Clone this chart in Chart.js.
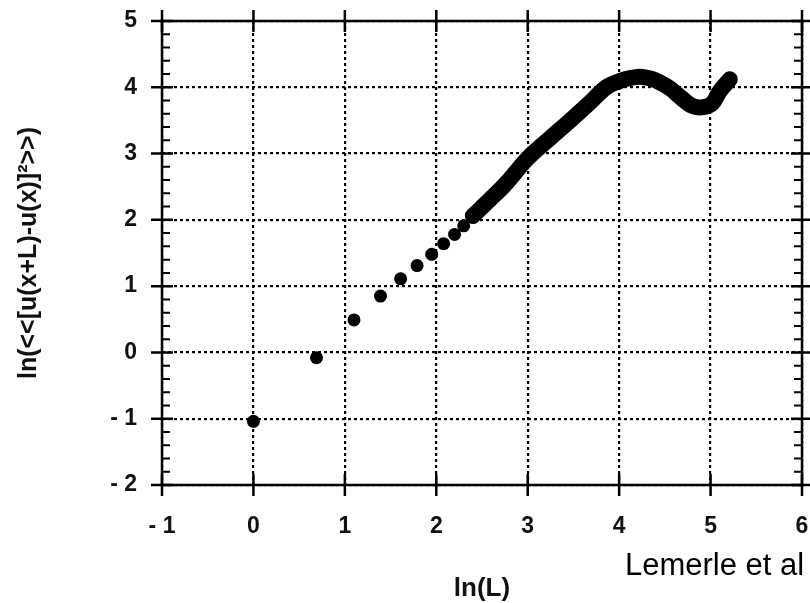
<!DOCTYPE html>
<html>
<head>
<meta charset="utf-8">
<script src="https://cdn.jsdelivr.net/npm/chart.js@4.4.1/dist/chart.umd.min.js"></script>
<style>
  body { margin: 0; background: #fff; }
  #wrap { width: 810px; height: 603px; position: relative; }
</style>
</head>
<body>
<div id="wrap"><canvas id="chart"></canvas></div>
<script>
// ===============================
// data
// ===============================
const xTicks = [-1, 0, 1, 2, 3, 4, 5, 6];
const yTicks = [-2, -1, 0, 1, 2, 3, 4, 5];

// separate dots at small L
const dotX = [0, 0.69, 1.10, 1.39, 1.61, 1.79, 1.95, 2.08, 2.20, 2.30, 2.40, 2.48, 2.56];
const dotY = [-1.04, -0.08, 0.49, 0.85, 1.11, 1.31, 1.48, 1.64, 1.78, 1.91, 2.04, 2.15, 2.26];

// dense part, the dots run together into a thick band
const curveX = [2.40, 2.59, 2.77, 3.00, 3.25, 3.45, 3.65, 3.86, 4.00, 4.12, 4.23, 4.35, 4.45, 4.56, 4.68, 4.80, 4.92, 5.02, 5.10, 5.21];
const curveY = [2.06, 2.31, 2.56, 2.93, 3.24, 3.48, 3.73, 4.00, 4.09, 4.14, 4.16, 4.13, 4.07, 3.98, 3.84, 3.72, 3.70, 3.76, 3.94, 4.12];

const xTitle = "ln(L)";
const yTitle = "ln(<<[u(x+L)-u(x)]²>>)";
const note = "Lemerle et al";

const FONT = "'Liberation Sans', Arial, Helvetica, sans-serif";

const fmt = v => v < 0 ? "- " + Math.abs(v) : String(v);

// ===============================
// frame, crossing ticks, minor ticks, note
// ===============================
const framePlugin = {
    id: "frame",
    afterDatasetsDraw(chart) {
        const { ctx, chartArea: a, scales } = chart;
        const sx = scales.x, sy = scales.y;
        ctx.save();
        ctx.strokeStyle = "#000";
        ctx.lineWidth = 2.5;
        ctx.strokeRect(a.left, a.top, a.right - a.left, a.bottom - a.top);

        ctx.beginPath();
        xTicks.forEach(v => {
            const px = sx.getPixelForValue(v);
            ctx.moveTo(px, a.top - 11); ctx.lineTo(px, a.top + 11);
            ctx.moveTo(px, a.bottom - 11); ctx.lineTo(px, a.bottom + 11);
        });
        yTicks.forEach(v => {
            const py = sy.getPixelForValue(v);
            ctx.moveTo(a.left - 11, py); ctx.lineTo(a.left + 11, py);
            ctx.moveTo(a.right - 11, py); ctx.lineTo(a.right + 11, py);
        });
        ctx.stroke();

        // minor ticks on y, every 0.2
        ctx.lineWidth = 2;
        ctx.beginPath();
        for (let i = 0; i < yTicks.length - 1; i++) {
            for (let k = 1; k < 5; k++) {
                const py = sy.getPixelForValue(yTicks[i] + k * 0.2);
                ctx.moveTo(a.left, py); ctx.lineTo(a.left + 8, py);
                ctx.moveTo(a.right, py); ctx.lineTo(a.right - 8, py);
            }
        }
        ctx.stroke();

        ctx.fillStyle = "#000";
        ctx.font = "31px " + FONT;
        ctx.textAlign = "left";
        ctx.textBaseline = "alphabetic";
        ctx.fillText(note, 625, 575);
        ctx.restore();
    }
};

// ===============================
// chart
// ===============================
new Chart(document.getElementById("chart"), {
    type: "scatter",
    data: {
        datasets: [
            {
                data: dotX.map((x, i) => ({ x: x, y: dotY[i] })),
                backgroundColor: "#000",
                borderWidth: 0,
                pointRadius: 6.5
            },
            {
                data: curveX.map((x, i) => ({ x: x, y: curveY[i] })),
                showLine: true,
                borderColor: "#000",
                borderWidth: 16,
                borderCapStyle: "round",
                borderJoinStyle: "round",
                tension: 0.35,
                pointRadius: 0
            }
        ]
    },
    options: {
        responsive: true,
        maintainAspectRatio: false,
        animation: false,
        layout: { padding: { top: 21, right: 8, bottom: 0, left: 0 } },
        plugins: {
            legend: { display: false },
            tooltip: { enabled: false }
        },
        scales: {
            x: {
                type: "linear",
                min: -1,
                max: 6,
                afterFit: s => { s.height = 118; s.paddingLeft = 0; s.paddingRight = 0; },
                afterBuildTicks: s => { s.ticks = xTicks.map(v => ({ value: v })); },
                ticks: {
                    color: "#111",
                    padding: 28,
                    maxRotation: 0,
                    font: { family: FONT, size: 23, weight: "bold" },
                    callback: fmt
                },
                grid: { color: "#000", lineWidth: 2.2, drawTicks: false },
                border: { display: false, dash: [3, 3] },
                title: {
                    display: true,
                    text: xTitle,
                    color: "#111",
                    font: { family: FONT, size: 26, weight: "bold", lineHeight: 1 },
                    padding: { top: 0, bottom: 1 }
                }
            },
            y: {
                type: "linear",
                min: -2,
                max: 5,
                afterFit: s => { s.width = 162; s.paddingTop = 0; s.paddingBottom = 0; },
                afterBuildTicks: s => { s.ticks = yTicks.map(v => ({ value: v })); },
                ticks: {
                    color: "#111",
                    padding: 25,
                    font: { family: FONT, size: 23, weight: "bold" },
                    callback: fmt
                },
                grid: { color: "#000", lineWidth: 2.2, drawTicks: false },
                border: { display: false, dash: [3, 3] },
                title: {
                    display: true,
                    text: yTitle,
                    color: "#111",
                    font: { family: FONT, size: 25, weight: "bold", lineHeight: 1 },
                    padding: { top: 17, bottom: 0 }
                }
            }
        }
    },
    plugins: [framePlugin]
});
</script>
</body>
</html>
